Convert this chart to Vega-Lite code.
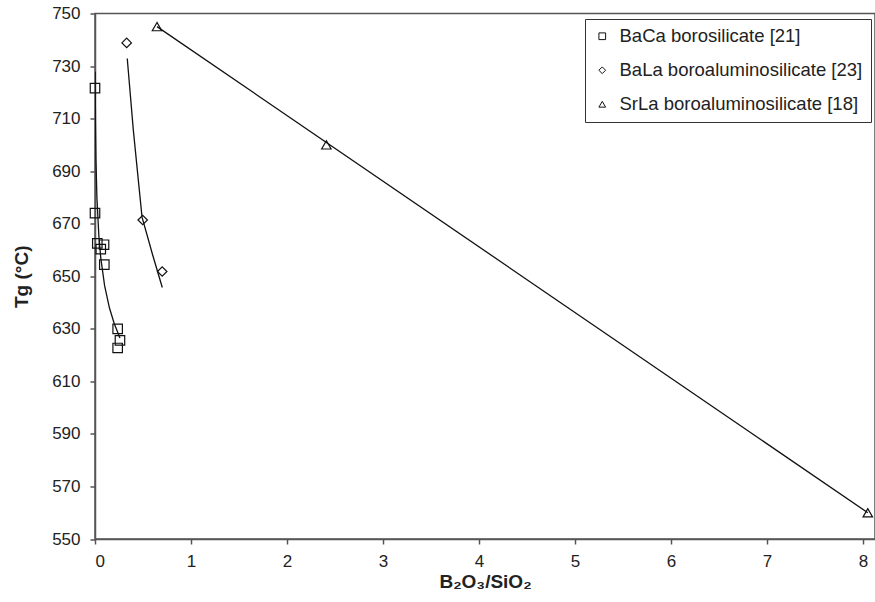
{
  "$schema": "https://vega.github.io/schema/vega-lite/v6.json",
  "autosize": "none",
  "width": 780,
  "height": 525.5,
  "padding": {"left": 95, "top": 13.5, "right": 0, "bottom": 63},
  "background": "white",
  "config": {
    "font": "Liberation Sans",
    "view": {"stroke": "#555", "strokeWidth": 1.5},
    "axis": {
      "grid": false,
      "domainColor": "#555",
      "domainWidth": 1.5,
      "tickColor": "#555",
      "tickSize": 5,
      "tickWidth": 1.5,
      "labelFont": "Liberation Sans",
      "labelFontSize": 17,
      "labelColor": "#222",
      "titleFont": "Liberation Sans",
      "titleFontSize": 19,
      "titleFontWeight": "bold",
      "titleColor": "#222"
    }
  },
  "data": {
    "values": [
      {"series": "BaCa borosilicate [21]", "kind": "point", "x": 0.0, "y": 721.6},
      {"series": "BaCa borosilicate [21]", "kind": "point", "x": 0.0, "y": 674.0},
      {"series": "BaCa borosilicate [21]", "kind": "point", "x": 0.024, "y": 662.5},
      {"series": "BaCa borosilicate [21]", "kind": "point", "x": 0.06, "y": 660.3},
      {"series": "BaCa borosilicate [21]", "kind": "point", "x": 0.094, "y": 662.0},
      {"series": "BaCa borosilicate [21]", "kind": "point", "x": 0.097, "y": 654.4},
      {"series": "BaCa borosilicate [21]", "kind": "point", "x": 0.236, "y": 630.0},
      {"series": "BaCa borosilicate [21]", "kind": "point", "x": 0.26, "y": 625.6},
      {"series": "BaCa borosilicate [21]", "kind": "point", "x": 0.236, "y": 622.7},
      {"series": "BaLa boroaluminosilicate [23]", "kind": "point", "x": 0.33, "y": 738.8},
      {"series": "BaLa boroaluminosilicate [23]", "kind": "point", "x": 0.497, "y": 671.4},
      {"series": "BaLa boroaluminosilicate [23]", "kind": "point", "x": 0.70, "y": 651.8},
      {"series": "SrLa boroaluminosilicate [18]", "kind": "point", "x": 0.646, "y": 745.0},
      {"series": "SrLa boroaluminosilicate [18]", "kind": "point", "x": 2.41, "y": 700.0},
      {"series": "SrLa boroaluminosilicate [18]", "kind": "point", "x": 8.05, "y": 560.0},
      {"series": "BaCa borosilicate [21]", "kind": "fit", "x": 0.002, "y": 727.8},
      {"series": "BaCa borosilicate [21]", "kind": "fit", "x": 0.005, "y": 708.7},
      {"series": "BaCa borosilicate [21]", "kind": "fit", "x": 0.01, "y": 694.3},
      {"series": "BaCa borosilicate [21]", "kind": "fit", "x": 0.02, "y": 679.9},
      {"series": "BaCa borosilicate [21]", "kind": "fit", "x": 0.04, "y": 665.5},
      {"series": "BaCa borosilicate [21]", "kind": "fit", "x": 0.06, "y": 657.0},
      {"series": "BaCa borosilicate [21]", "kind": "fit", "x": 0.1, "y": 646.4},
      {"series": "BaCa borosilicate [21]", "kind": "fit", "x": 0.15, "y": 638.0},
      {"series": "BaCa borosilicate [21]", "kind": "fit", "x": 0.2, "y": 632.0},
      {"series": "BaCa borosilicate [21]", "kind": "fit", "x": 0.26, "y": 626.5},
      {"series": "BaLa boroaluminosilicate [23]", "kind": "fit", "x": 0.336, "y": 732.9},
      {"series": "BaLa boroaluminosilicate [23]", "kind": "fit", "x": 0.399, "y": 705.7},
      {"series": "BaLa boroaluminosilicate [23]", "kind": "fit", "x": 0.451, "y": 686.7},
      {"series": "BaLa boroaluminosilicate [23]", "kind": "fit", "x": 0.49, "y": 672.5},
      {"series": "BaLa boroaluminosilicate [23]", "kind": "fit", "x": 0.6, "y": 658.2},
      {"series": "BaLa boroaluminosilicate [23]", "kind": "fit", "x": 0.701, "y": 645.7},
      {"series": "SrLa boroaluminosilicate [18]", "kind": "fit", "x": 0.646, "y": 745.0},
      {"series": "SrLa boroaluminosilicate [18]", "kind": "fit", "x": 8.05, "y": 560.0}
    ]
  },
  "encoding": {
    "x": {
      "field": "x", "type": "quantitative",
      "scale": {"domain": [0, 8.125], "nice": false, "zero": false},
      "axis": {"values": [0, 1, 2, 3, 4, 5, 6, 7, 8], "format": "d", "title": "B₂O₃/SiO₂", "titlePadding": 3, "labelPadding": 9}
    },
    "y": {
      "field": "y", "type": "quantitative",
      "scale": {"domain": [550, 750], "nice": false, "zero": false},
      "axis": {"values": [550, 570, 590, 610, 630, 650, 670, 690, 710, 730, 750], "format": "d", "title": "Tg (°C)", "titlePadding": 20, "labelPadding": 10}
    }
  },
  "layer": [
    {
      "transform": [{"filter": "datum.kind === 'fit'"}],
      "mark": {"type": "line", "color": "#111", "strokeWidth": 1.3, "clip": true},
      "encoding": {
        "detail": {"field": "series"},
        "order": {"field": "x", "type": "quantitative"}
      }
    },
    {
      "transform": [{"filter": "datum.kind === 'point'"}],
      "mark": {"type": "point", "filled": false, "stroke": "#111", "strokeWidth": 1.2, "size": 90, "opacity": 1},
      "encoding": {
        "shape": {
          "field": "series", "type": "nominal",
          "scale": {
            "domain": ["BaCa borosilicate [21]", "BaLa boroaluminosilicate [23]", "SrLa boroaluminosilicate [18]"],
            "range": ["square", "diamond", "triangle-up"]
          },
          "legend": {
            "title": null,
            "orient": "none",
            "legendX": 490,
            "legendY": 5.5,
            "strokeColor": "#333",
            "fillColor": "white",
            "padding": 8,
            "rowPadding": 15,
            "labelFontSize": 18.5,
            "labelFont": "Liberation Sans",
            "labelColor": "#222",
            "labelOffset": 8,
            "labelLimit": 400,
            "symbolSize": 45,
            "symbolStrokeColor": "#111",
            "symbolStrokeWidth": 1,
            "symbolFillColor": "transparent",
            "symbolType": "square"
          }
        }
      }
    }
  ]
}
